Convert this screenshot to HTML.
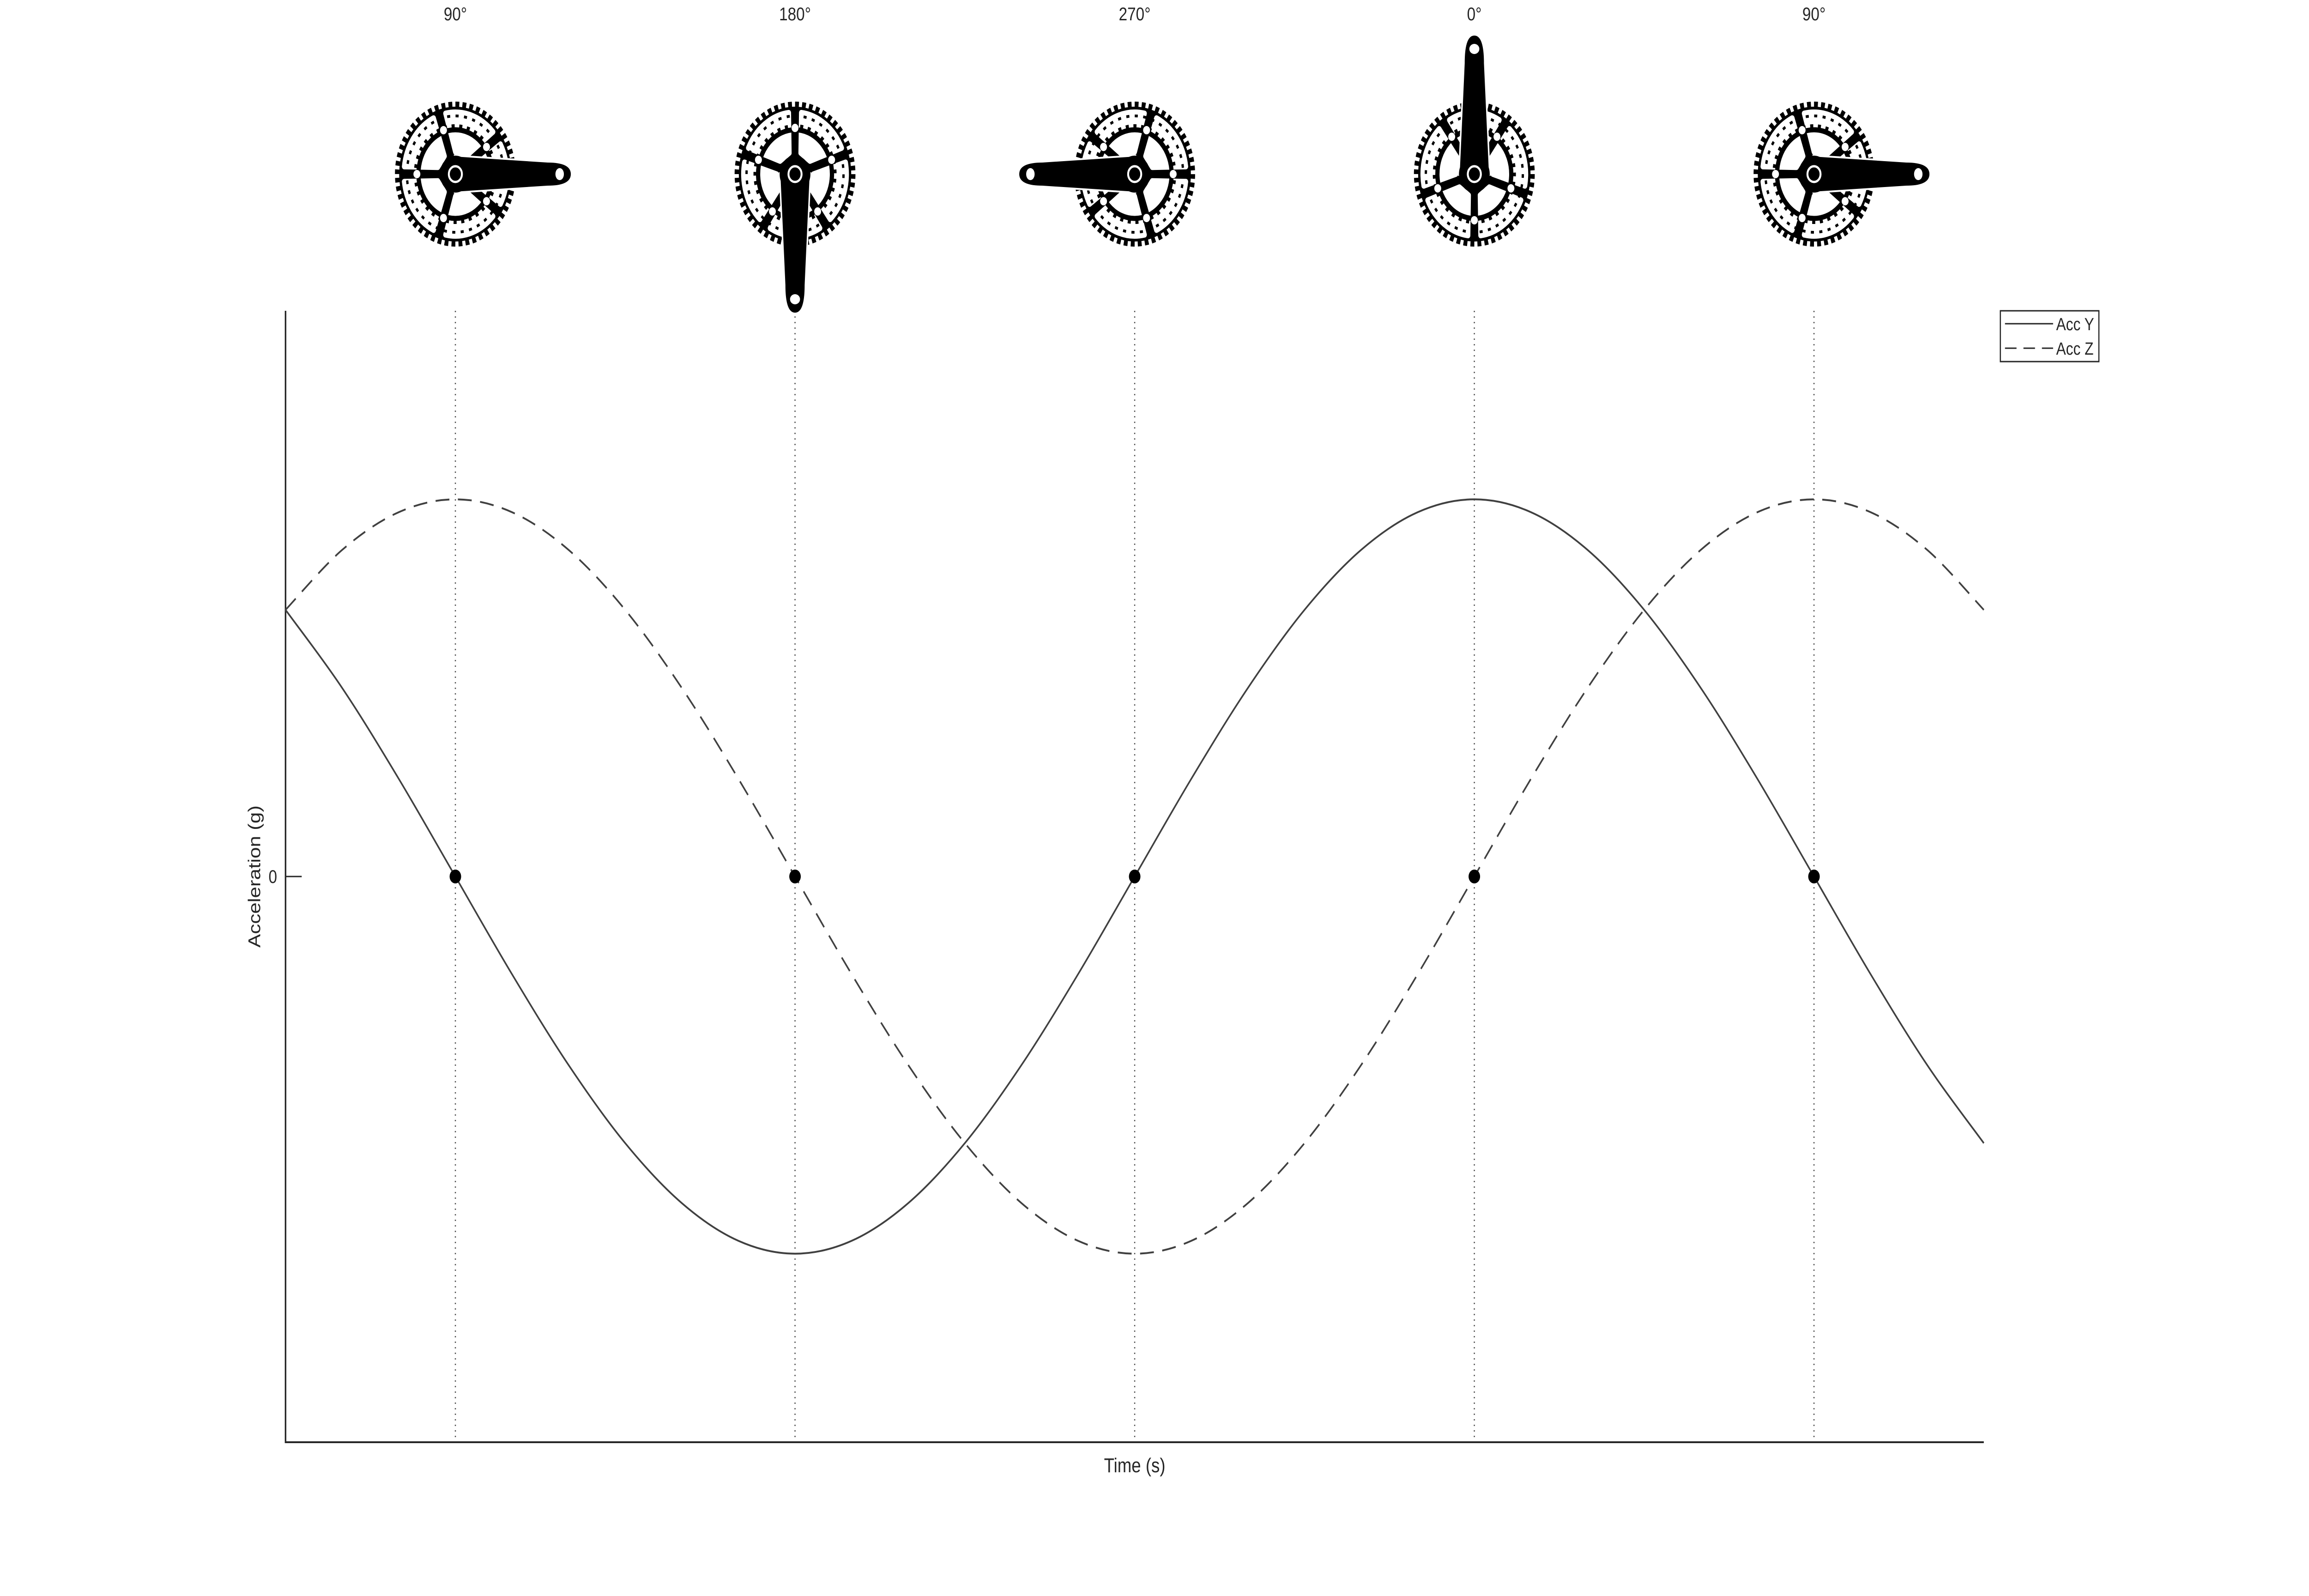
<!DOCTYPE html>
<html><head><meta charset="utf-8">
<style>
html,body{margin:0;padding:0;background:#fff;width:100%;height:100%;overflow:hidden;}
svg{display:block;width:100vw;height:100vh;}
text{font-family:"Liberation Sans",Arial,sans-serif;fill:#262626;}
</style></head>
<body>
<svg id="chart" viewBox="0 0 6000 3456" preserveAspectRatio="none" xmlns="http://www.w3.org/2000/svg">
  <defs>
    <g id="crankset">
      <circle r="146" fill="#000"/>
      <circle r="150" fill="none" stroke="#000" stroke-width="14" stroke-dasharray="10 8.12"/>
      <g id="windows"></g>
      <circle r="96" fill="none" stroke="#000" stroke-width="11"/>
      <circle r="104" fill="none" stroke="#000" stroke-width="8" stroke-dasharray="8 12"/>
      <circle r="126" fill="none" stroke="#000" stroke-width="6" stroke-dasharray="8 14"/>
      <g id="holes"></g>
      <path d="M0,-38 L240,-25 Q300,-25 300,0 Q300,25 240,25 L0,38 Z" fill="none" stroke="#fff" stroke-width="8"/>
      <path d="M0,-38 L240,-25 Q300,-25 300,0 Q300,25 240,25 L0,38 Z" fill="#000"/>
      <circle r="40" fill="#000"/>
      <circle r="17" fill="#000" stroke="#fff" stroke-width="5"/>
      <ellipse cx="271" cy="0" rx="11" ry="13" fill="#fff"/>
    </g>
  </defs>
  <g id="plot"></g>
</svg>
<script>
// ---- data ----
var timeDeg = [-45,-30,-15,0,15,30,45,60,75,90,105,120,135,150,165,180,195,210,225,240,255,270,285,300,315,330,345,360,375,390,405];
var accY = [0.707,0.5,0.259,0,-0.259,-0.5,-0.707,-0.866,-0.966,-1,-0.966,-0.866,-0.707,-0.5,-0.259,0,0.259,0.5,0.707,0.866,0.966,1,0.966,0.866,0.707,0.5,0.259,0,-0.259,-0.5,-0.707];
var accZ = [0.707,0.866,0.966,1,0.966,0.866,0.707,0.5,0.259,0,-0.259,-0.5,-0.707,-0.866,-0.966,-1,-0.966,-0.866,-0.707,-0.5,-0.259,0,0.259,0.5,0.707,0.866,0.966,1,0.966,0.866,0.707];
var markerDeg = [0,90,180,270,360];
var markerVal = [0,0,0,0,0];
var crankLabels = ["90°","180°","270°","0°","90°"];
var crankAngles = [90,180,270,0,90];
var yTicks = [0];
var yTickLabels = ["0"];

// ---- axes ----
var X0=742, X1=5155, Y0=673, Y1=3123;
var xMin=-45, xMax=405, yMin=-1.5, yMax=1.5;
function sx(v){return X0+(v-xMin)/(xMax-xMin)*(X1-X0);}
function sy(v){return Y1-(v-yMin)/(yMax-yMin)*(Y1-Y0);}

var NS="http://www.w3.org/2000/svg";
var plot=document.getElementById('plot');
function mk(tag,attrs,parent){var e=document.createElementNS(NS,tag);for(var k in attrs)e.setAttribute(k,attrs[k]);(parent||plot).appendChild(e);return e;}

// crank icon windows & holes
var win=document.getElementById('windows');
[0,72,144,216,288].forEach(function(a){
  var r0=48,r1=134,h=31;
  function p(r,d){var t=(a+d)*Math.PI/180;return (r*Math.cos(t)).toFixed(1)+","+(r*Math.sin(t)).toFixed(1);}
  var d="M"+p(r0,-h+13)+" L"+p(r1,-h+2)+" A"+r1+","+r1+" 0 0 1 "+p(r1,h-2)+" L"+p(r0,h-13)+" Z";
  mk('path',{d:d,fill:'#fff',stroke:'#fff','stroke-width':12,'stroke-linejoin':'round'},win);
});
var holes=document.getElementById('holes');
[36,108,180,252,324].forEach(function(a){
  var t=a*Math.PI/180;
  mk('circle',{cx:(100*Math.cos(t)).toFixed(1),cy:(100*Math.sin(t)).toFixed(1),r:9,fill:'#fff'},holes);
});

// vertical dotted lines
markerDeg.forEach(function(d,i){
  var l=mk('line',{x1:sx(d),x2:sx(d),y1:Y0,y2:Y1,stroke:'#555','stroke-width':3,'stroke-dasharray':'3 9'});
  
  
});

// crank icons and labels
crankAngles.forEach(function(a,i){
  var cx=sx(markerDeg[i]);
  var u=mk('use',{href:'#crankset',transform:'translate('+cx+',377) rotate('+(a-90)+')'});
  
  
  var t=mk('text',{x:cx,y:44,'font-size':40,'text-anchor':'middle'});
  t.textContent=crankLabels[i];
  
  
});

// axes
var ax=mk('path',{d:'M'+X0+','+Y0+' L'+X0+','+Y1+' L'+X1+','+Y1,fill:'none',stroke:'#262626','stroke-width':4});


yTicks.forEach(function(v,i){
  mk('line',{x1:X0,x2:X0+42,y1:sy(v),y2:sy(v),stroke:'#262626','stroke-width':3});
  var t=mk('text',{x:X0-22,y:sy(v)+14,'font-size':40,'text-anchor':'end'});
  t.textContent=yTickLabels[i];
  
  
});
var yl=mk('text',{x:0,y:0,'font-size':44,'text-anchor':'middle',transform:'translate(676,'+sy(0)+') rotate(-90)'});
yl.textContent='Acceleration (g)';


var xl=mk('text',{x:(X0+X1)/2,y:3188,'font-size':44,'text-anchor':'middle'});
xl.textContent='Time (s)';



// smooth curve via Catmull-Rom
function curve(xs,ys){
  var P=xs.map(function(x,i){return [sx(x),sy(ys[i])];});
  var d='M'+P[0][0].toFixed(1)+','+P[0][1].toFixed(1);
  for(var i=0;i<P.length-1;i++){
    var p0=P[Math.max(0,i-1)],p1=P[i],p2=P[i+1],p3=P[Math.min(P.length-1,i+2)];
    var c1=[p1[0]+(p2[0]-p0[0])/6,p1[1]+(p2[1]-p0[1])/6];
    var c2=[p2[0]-(p3[0]-p1[0])/6,p2[1]-(p3[1]-p1[1])/6];
    d+=' C'+c1[0].toFixed(1)+','+c1[1].toFixed(1)+' '+c2[0].toFixed(1)+','+c2[1].toFixed(1)+' '+p2[0].toFixed(1)+','+p2[1].toFixed(1);
  }
  return d;
}
var lz=mk('path',{d:curve(timeDeg,accZ),fill:'none',stroke:'#404040','stroke-width':4,'stroke-dasharray':'36 22'});


var ly=mk('path',{d:curve(timeDeg,accY),fill:'none',stroke:'#404040','stroke-width':4});



// markers
markerDeg.forEach(function(d,i){
  var c=mk('circle',{cx:sx(d),cy:sy(markerVal[i]),r:15,fill:'#000'});
  
  
});

// legend
var lg=mk('g',{});


mk('rect',{x:5198,y:673,width:256,height:110,fill:'#fff',stroke:'#262626','stroke-width':3},lg);
mk('line',{x1:5210,x2:5335,y1:701,y2:701,stroke:'#262626','stroke-width':3},lg);
mk('line',{x1:5210,x2:5335,y1:754,y2:754,stroke:'#262626','stroke-width':3,'stroke-dasharray':'30 18'},lg);
var t1=mk('text',{x:5343,y:715,'font-size':38},lg);t1.textContent='Acc Y';


var t2=mk('text',{x:5343,y:768,'font-size':38},lg);t2.textContent='Acc Z';


</script>
</body></html>
